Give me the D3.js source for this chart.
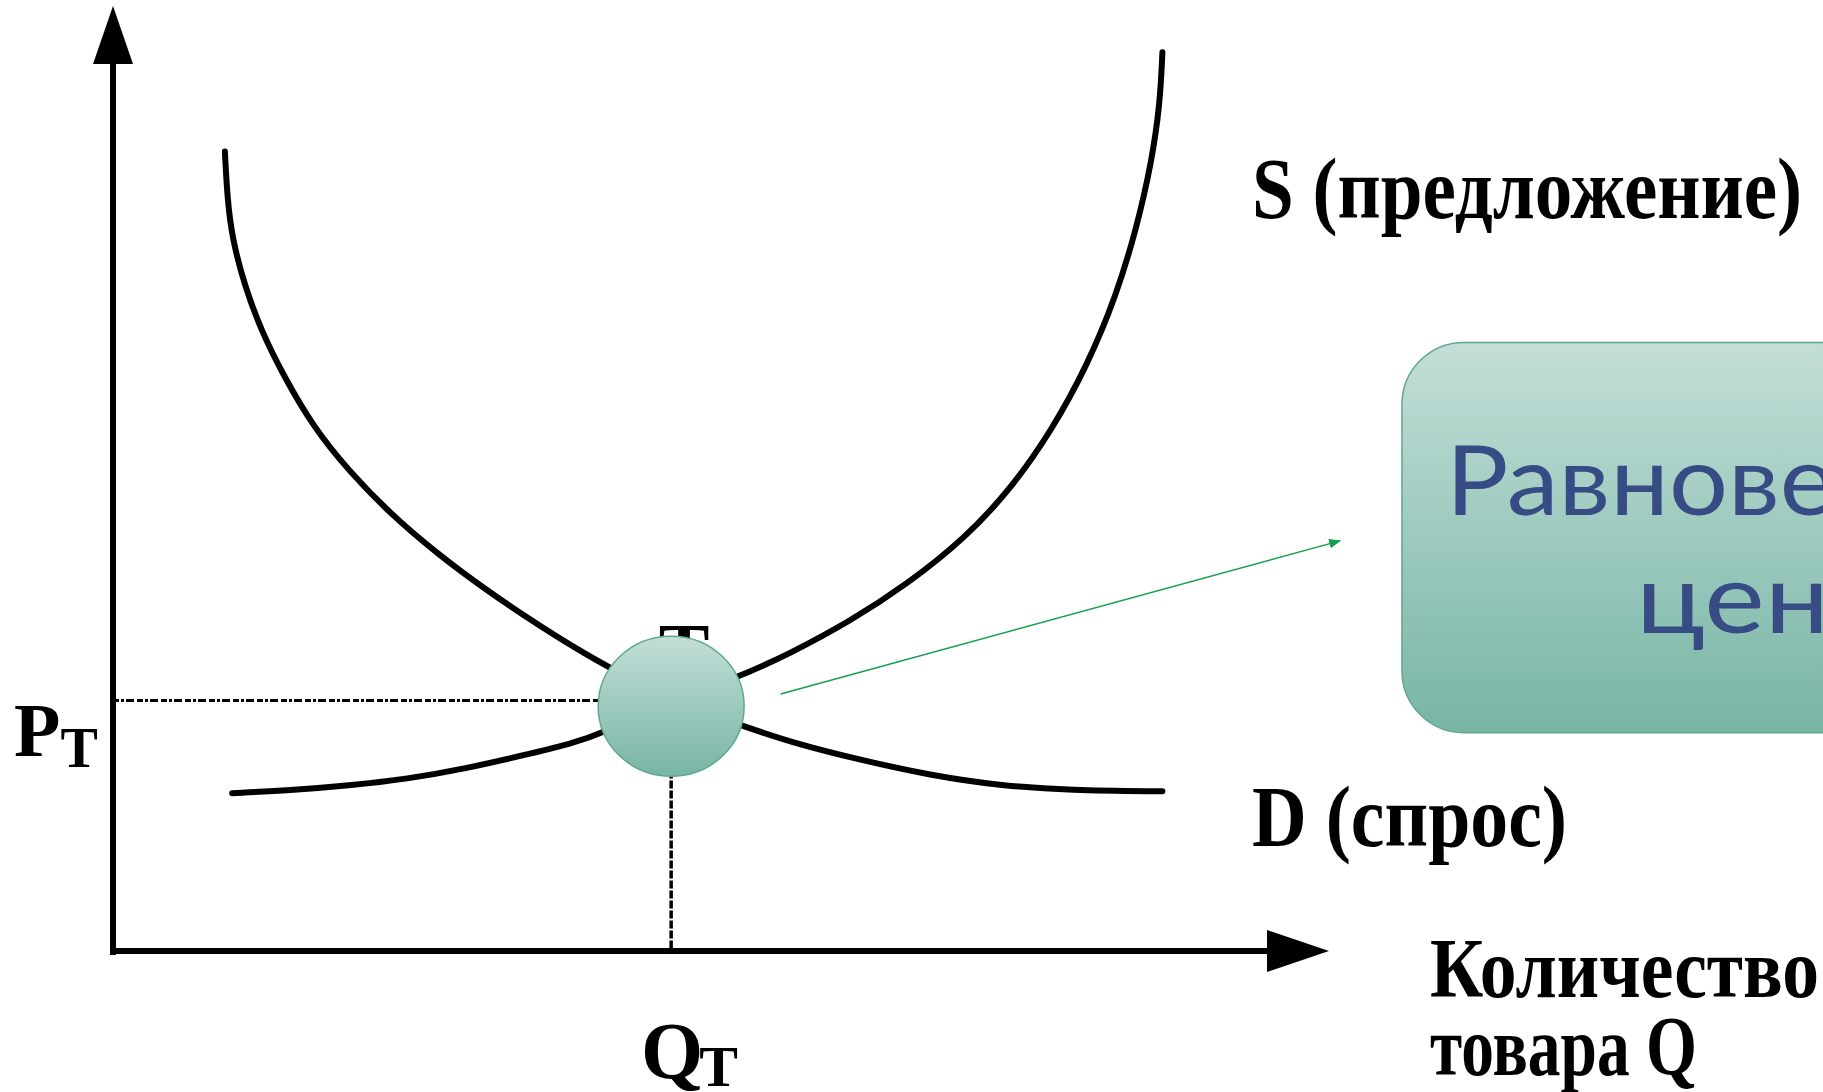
<!DOCTYPE html>
<html>
<head>
<meta charset="utf-8">
<script src="https://cdn.jsdelivr.net/npm/d3@7"></script>
<style>
  html, body { margin: 0; padding: 0; background: #fff; overflow: hidden; }
  svg { display: block; }
  .lbl { font-family: "Liberation Serif", "Times New Roman", serif; font-weight: bold; fill: #000; }
</style>
</head>
<body>
<div class="container"></div>
<script>
// Demand curve (quantity, price) in abstract units
const demandQ = [0.92, 0.94, 0.98, 1.08, 1.22, 1.41, 1.65, 1.94, 2.27, 2.66, 3.09, 3.52, 3.90, 4.14, 4.59, 5.16, 5.57, 6.15, 6.72, 7.29, 7.87, 8.63];
const demandP = [8.46, 7.97, 7.54, 7.05, 6.56, 6.07, 5.54, 5.08, 4.64, 4.21, 3.80, 3.43, 3.13, 2.96, 2.65, 2.39, 2.21, 2.02, 1.86, 1.75, 1.70, 1.69];
// Supply curve
const supplyQ = [0.98, 1.46, 1.94, 2.42, 2.90, 3.37, 3.76, 4.04, 4.59, 5.15, 5.57, 6.05, 6.53, 7.01, 7.39, 7.72, 8.01, 8.25, 8.42, 8.54, 8.61, 8.63];
const supplyP = [1.67, 1.70, 1.75, 1.82, 1.93, 2.07, 2.19, 2.31, 2.65, 2.90, 3.15, 3.48, 3.88, 4.37, 4.90, 5.51, 6.19, 6.93, 7.66, 8.34, 8.96, 9.51];
// Equilibrium
const eqQ = 4.59, eqP = 2.65;
const markerPoint = [4.59, 2.59];
// Callout arrow and box (abstract units)
const calloutFrom = [5.49, 2.72], calloutTo = [10.09, 4.34];
const boxCorners = [[10.6, 6.44], [16.3, 2.31]];
// Texts
const supplyLabel = "S (предложение)";
const demandLabel = "D (спрос)";
const xLabel = ["Количество", "товара Q"];
const boxText = ["Равновесная", "цена"];

const W = 1823, H = 1092;
const svg = d3.select('.container').append('svg').attr('width', W).attr('height', H);

const x = d3.scaleLinear().domain([0, 10]).range([113, 1329]);
const y = d3.scaleLinear().domain([0, 10]).range([951, 6]);

const defs = svg.append('defs');
const grad = defs.append('linearGradient').attr('id', 'teal').attr('x1', 0).attr('y1', 0).attr('x2', 0).attr('y2', 1);
grad.append('stop').attr('offset', '0%').attr('stop-color', '#c3ded7');
grad.append('stop').attr('offset', '100%').attr('stop-color', '#77b5a5');

// Axes
svg.append('line').attr('x1', x(0)).attr('y1', y(0) + 4).attr('x2', x(0)).attr('y2', y(10) + 55)
  .attr('stroke', '#000').attr('stroke-width', 6);
svg.append('polygon')
  .attr('points', [[x(0), y(10)], [x(0) - 20, y(10) + 58], [x(0) + 20, y(10) + 58]].join(' '))
  .attr('fill', '#000');
svg.append('line').attr('x1', x(0) - 3).attr('y1', y(0)).attr('x2', x(10) - 58).attr('y2', y(0))
  .attr('stroke', '#000').attr('stroke-width', 6);
svg.append('polygon')
  .attr('points', [[x(10), y(0)], [x(10) - 62, y(0) - 21], [x(10) - 62, y(0) + 21]].join(' '))
  .attr('fill', '#000');

// Guide lines
svg.append('line').attr('x1', x(0)).attr('y1', y(eqP)).attr('x2', x(eqQ) - 70).attr('y2', y(eqP))
  .attr('stroke', '#000').attr('stroke-width', 3).attr('stroke-dasharray', '6,2,3,2,8,3');
svg.append('line').attr('x1', x(eqQ)).attr('y1', y(eqP)).attr('x2', x(eqQ)).attr('y2', y(0))
  .attr('stroke', '#000').attr('stroke-width', 3.5).attr('stroke-dasharray', '8,2');

// Curves
const line = d3.line().x(d => x(d[0])).y(d => y(d[1])).curve(d3.curveBasis);
svg.append('path').datum(d3.zip(demandQ, demandP)).attr('d', line)
  .attr('fill', 'none').attr('stroke', '#000').attr('stroke-width', 6).attr('stroke-linecap', 'round');
svg.append('path').datum(d3.zip(supplyQ, supplyP)).attr('d', line)
  .attr('fill', 'none').attr('stroke', '#000').attr('stroke-width', 6).attr('stroke-linecap', 'round');

// Equilibrium label (mostly hidden by the marker)
svg.append('text').attr('class', 'lbl').attr('x', x(eqQ) + 13).attr('y', y(eqP) - 25)
  .attr('text-anchor', 'middle').attr('font-size', 76).text('T');

// Marker
svg.append('ellipse').attr('cx', x(markerPoint[0])).attr('cy', y(markerPoint[1]))
  .attr('rx', 73).attr('ry', 70)
  .attr('fill', 'url(#teal)').attr('stroke', '#5fa892').attr('stroke-width', 1.5);

// Callout arrow
defs.append('marker').attr('id', 'ah').attr('viewBox', '0 0 10 10').attr('refX', 9).attr('refY', 5)
  .attr('markerWidth', 8).attr('markerHeight', 8).attr('orient', 'auto')
  .append('path').attr('d', 'M0,1 L10,5 L0,9 z').attr('fill', '#13a04c');
svg.append('line')
  .attr('x1', x(calloutFrom[0])).attr('y1', y(calloutFrom[1]))
  .attr('x2', x(calloutTo[0])).attr('y2', y(calloutTo[1]))
  .attr('stroke', '#13a04c').attr('stroke-width', 1.5).attr('marker-end', 'url(#ah)');

// Callout box
const bx0 = x(boxCorners[0][0]), by0 = y(boxCorners[0][1]);
const bx1 = x(boxCorners[1][0]), by1 = y(boxCorners[1][1]);
svg.append('rect').attr('x', bx0).attr('y', by0).attr('width', bx1 - bx0).attr('height', by1 - by0)
  .attr('rx', 62).attr('ry', 62)
  .attr('fill', 'url(#teal)').attr('stroke', '#5fa892').attr('stroke-width', 1.5);
svg.append('text').attr('x', 1446).attr('y', 515)
  .attr('font-family', 'Lato, "Open Sans", sans-serif').attr('font-weight', 400)
  .attr('font-size', 96).attr('fill', '#374b85')
  .attr('textLength', 600).attr('lengthAdjust', 'spacingAndGlyphs').text(boxText[0]);
svg.append('text').attr('x', 1636).attr('y', 633)
  .attr('font-family', 'Lato, "Open Sans", sans-serif').attr('font-weight', 400)
  .attr('font-size', 96).attr('fill', '#374b85')
  .attr('textLength', 250).attr('lengthAdjust', 'spacingAndGlyphs').text(boxText[1]);

// Labels
svg.append('text').attr('class', 'lbl').attr('x', 1252).attr('y', 218).attr('font-size', 86)
  .attr('textLength', 550).attr('lengthAdjust', 'spacingAndGlyphs').text(supplyLabel);
svg.append('text').attr('class', 'lbl').attr('x', 1252).attr('y', 846).attr('font-size', 86)
  .attr('textLength', 315).attr('lengthAdjust', 'spacingAndGlyphs').text(demandLabel);
svg.append('text').attr('class', 'lbl').attr('x', 1430).attr('y', 997).attr('font-size', 84)
  .attr('textLength', 389).attr('lengthAdjust', 'spacingAndGlyphs').text(xLabel[0]);
svg.append('text').attr('class', 'lbl').attr('x', 1430).attr('y', 1075).attr('font-size', 84)
  .attr('textLength', 267).attr('lengthAdjust', 'spacingAndGlyphs').text(xLabel[1]);

// P_T and Q_T
const pt = svg.append('text').attr('class', 'lbl').attr('x', 14).attr('y', 756).attr('font-size', 76);
pt.append('tspan').text('P');
pt.append('tspan').attr('font-size', 56).attr('dy', 11).text('T');
const qt = svg.append('text').attr('class', 'lbl').attr('x', 641).attr('y', 1078).attr('font-size', 80);
qt.append('tspan').text('Q');
qt.append('tspan').attr('font-size', 58).attr('dy', 8).attr('dx', -4).text('T');
</script>
</body>
</html>
